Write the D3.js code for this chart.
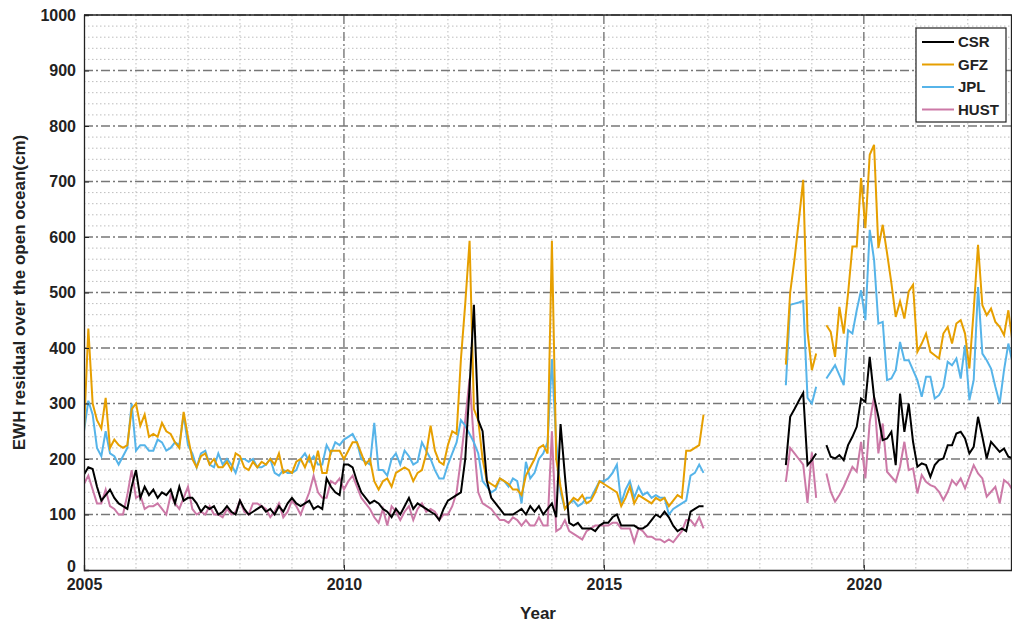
<!DOCTYPE html>
<html><head><meta charset="utf-8">
<script src="https://cdn.jsdelivr.net/npm/d3@7"></script>
<style>body{margin:0;background:#fff}text{font-family:"Liberation Sans",Arial,sans-serif;font-weight:bold}</style>
</head><body><div id="chart"></div>
<script>
// monthly values, segment 1 starts 2005.0
var start1=2005.0;
var csr1=[172,185,182,150,125,135,145,130,120,115,110,150,
180,130,150,135,145,130,140,135,145,120,150,125,
130,130,120,105,115,110,115,100,105,115,105,100,
125,110,100,105,110,115,105,110,100,115,105,120,
130,120,115,120,125,110,115,110,165,150,140,135,
190,190,185,160,140,130,120,125,120,110,105,95,
110,100,115,130,110,120,115,110,105,100,90,110,
125,130,135,140,200,330,478,270,250,160,130,120,
110,100,100,100,105,110,100,115,105,115,100,110,
120,95,263,170,85,80,85,75,75,75,70,80,
85,85,95,100,80,80,80,80,75,75,80,90,
100,95,105,95,80,70,75,70,105,110,115,115];
var gfz1=[250,435,300,270,255,310,220,235,225,220,225,290,
300,260,280,240,245,240,265,250,245,230,220,285,
240,200,185,205,210,190,200,185,185,195,180,210,
205,185,180,195,185,195,190,200,190,210,175,180,
175,195,200,185,205,180,215,175,175,215,215,215,
200,215,230,230,210,190,200,160,145,160,165,150,
175,180,185,180,160,175,180,210,260,215,195,190,
225,250,245,380,480,593,290,270,200,160,155,150,
165,160,155,145,145,135,170,185,200,220,225,210,
593,200,150,110,120,130,125,135,120,125,140,160,
155,150,145,140,115,130,150,120,135,130,125,120,
130,125,130,115,125,135,130,215,215,220,225,280];
var jpl1=[250,305,280,220,205,250,210,205,190,205,220,300,
215,225,225,215,215,235,230,215,220,230,225,280,
225,210,185,210,215,190,185,210,190,200,190,175,
200,200,195,200,185,185,190,200,175,170,180,175,
175,180,200,210,195,205,190,190,225,210,230,225,
235,240,245,230,200,195,190,265,180,180,170,200,
210,190,215,205,190,195,230,215,200,180,165,165,
190,210,230,270,260,245,230,210,160,150,140,145,
165,160,150,165,160,120,195,165,175,200,210,230,
380,230,140,110,120,125,115,120,130,130,145,160,
160,165,175,190,120,145,160,130,150,135,140,130,
135,130,130,100,110,115,120,125,170,175,190,175];
var hust1=[155,170,145,120,120,145,115,110,100,100,135,180,
130,135,110,115,115,120,110,100,135,120,110,130,
150,110,100,105,100,115,100,100,95,110,100,105,
125,105,100,120,120,115,110,95,105,120,95,105,
125,115,100,120,140,170,140,130,130,160,155,165,
145,160,170,150,130,120,110,95,85,110,80,115,
105,90,105,115,90,110,120,105,110,105,90,100,
100,115,140,200,270,345,230,140,120,115,110,100,
90,90,85,95,90,80,90,80,80,95,80,80,
250,70,75,90,70,65,60,55,70,75,80,80,
80,80,85,85,75,75,75,50,75,70,60,60,
55,55,50,55,50,60,70,90,90,80,95,75];
// segment 2 starts 2018.5
var start2=2018.5;
var csr2=[189,276,290,305,319,189,198,210];
var gfz2=[370,500,560,630,703,430,360,390];
var jpl2=[333,478,480,482,485,310,300,330];
var hust2=[159,220,210,200,190,121,212,130];
// segment 3 starts 2019.28
var start3=2019.28;
var csr3=[225,204,201,207,198,225,240,258,309,303,384,312,276,234,237,249,189,318,249,300,231,186,192,189,168,189,198,201,225,225,246,249,237,210,222,276,240,201,231,222,213,219,204,201];
var gfz3=[441,429,384,474,426,498,583,583,706,616,748,766,580,622,571,517,456,484,453,502,514,393,408,426,393,387,381,426,438,408,444,450,426,363,468,586,477,459,471,447,438,423,468,408];
var jpl3=[345,357,369,351,333,432,426,468,504,450,613,559,444,447,342,345,360,411,378,378,360,342,312,348,348,309,315,330,375,369,381,345,405,306,342,510,390,378,363,330,300,360,408,372];
var hust3=[174,141,123,135,150,168,186,177,231,165,267,312,210,264,177,168,159,186,231,180,183,138,171,159,153,150,141,126,141,162,153,165,147,168,189,174,165,132,141,150,120,162,156,144];

var names=["CSR","GFZ","JPL","HUST"];
var colors=["#000000","#E69F00","#56B4E9","#CC79A7"];
var seg1=[csr1,gfz1,jpl1,hust1],seg2=[csr2,gfz2,jpl2,hust2],seg3=[csr3,gfz3,jpl3,hust3];
var yTicks=d3.range(0,1001,100);
var xTicks=[2005,2010,2015,2020];

var W=1012,H=630,L=84,R=1012,T=15,B=570;
var svg=d3.select("#chart").append("svg").attr("width",W).attr("height",H);
var x=d3.scaleLinear().domain([2005,2022.85]).range([L,R]);
var y=d3.scaleLinear().domain([0,1000]).range([B,T]);

// grid
var g=svg.append("g");
d3.range(0,1001,20).filter(function(v){return v%100!==0}).forEach(function(v){
  g.append("line").attr("x1",L).attr("x2",R).attr("y1",y(v)).attr("y2",y(v)).attr("stroke","#bdbdbd").attr("stroke-dasharray","1.5,2.5");
});
d3.range(2006,2023).filter(function(v){return v%5!==0}).forEach(function(v){
  g.append("line").attr("x1",x(v)).attr("x2",x(v)).attr("y1",T).attr("y2",B).attr("stroke","#bdbdbd").attr("stroke-dasharray","1.5,2.5");
});
yTicks.slice(1).forEach(function(v){
  g.append("line").attr("x1",L).attr("x2",R).attr("y1",y(v)).attr("y2",y(v)).attr("stroke","#777").attr("stroke-width",1.4).attr("stroke-dasharray","9,3,2,3");
});
xTicks.slice(1).forEach(function(v){
  g.append("line").attr("x1",x(v)).attr("x2",x(v)).attr("y1",T).attr("y2",B).attr("stroke","#777").attr("stroke-width",1.4).attr("stroke-dasharray","9,3,2,3");
});

svg.append("clipPath").attr("id","clip").append("rect").attr("x",L).attr("y",T).attr("width",R-L).attr("height",B-T);
var line=d3.line().x(function(d){return x(d[0])}).y(function(d){return y(d[1])});
function pts(arr,s){return arr.map(function(v,i){return [s+i/12,v]})}
var lg=svg.append("g").attr("clip-path","url(#clip)");
[3,2,1,0].forEach(function(k){
  [[seg1[k],start1],[seg2[k],start2],[seg3[k],start3]].forEach(function(p){
    lg.append("path").attr("d",line(pts(p[0],p[1]))).attr("fill","none").attr("stroke",colors[k]).attr("stroke-width",2);
  });
});

// axes
var ya=svg.append("g").attr("transform","translate("+L+",0)").call(d3.axisLeft(y).tickValues(yTicks).tickFormat(d3.format("d")).tickSize(-5).tickPadding(8));
var xa=svg.append("g").attr("transform","translate(0,"+B+")").call(d3.axisBottom(x).tickValues(xTicks).tickFormat(d3.format("d")).tickSize(-5).tickPadding(9));
[ya,xa].forEach(function(a){a.select(".domain").attr("stroke","#222").attr("stroke-width",1.3);a.selectAll("line").attr("stroke","#222");a.selectAll("text").attr("font-size",16).attr("fill","#222").style("font-family","Liberation Sans, Arial").style("font-weight","bold")});
ya.selectAll(".tick text").filter(function(d){return d===0}).attr("dy","0.1em");
svg.append("line").attr("x1",L).attr("x2",R).attr("y1",T).attr("y2",T).attr("stroke","#222").attr("stroke-width",1.3);
svg.append("line").attr("x1",R-0.5).attr("x2",R-0.5).attr("y1",T).attr("y2",B).attr("stroke","#222").attr("stroke-width",1.3);

svg.append("text").attr("x",(L+R)/2-10).attr("y",619).attr("text-anchor","middle").attr("font-size",17).attr("fill","#222").text("Year");
svg.append("text").attr("transform","translate(25,"+((T+B)/2)+") rotate(-90)").attr("text-anchor","middle").attr("font-size",17).attr("fill","#222").text("EWH residual over the open ocean(cm)");

// legend
var lgd=svg.append("g").attr("transform","translate(916,28)");
lgd.append("rect").attr("width",90).attr("height",94).attr("fill","#fff").attr("stroke","#222").attr("stroke-width",1.2);
names.forEach(function(n,i){
  var yy=14+i*22.5;
  lgd.append("line").attr("x1",6).attr("x2",38).attr("y1",yy).attr("y2",yy).attr("stroke",colors[i]).attr("stroke-width",2);
  lgd.append("text").attr("x",42).attr("y",yy+5).attr("font-size",15).attr("fill","#222").text(n);
});
</script></body></html>
